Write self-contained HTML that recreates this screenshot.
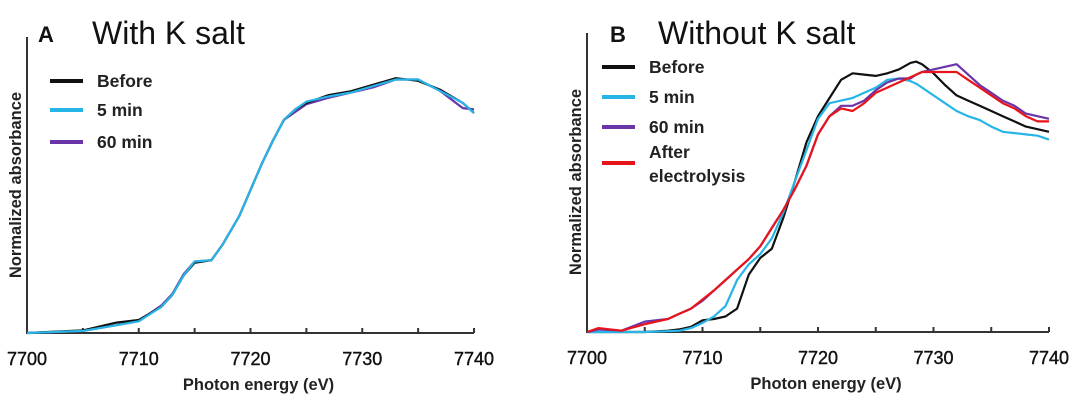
<!DOCTYPE html>
<html><head><meta charset="utf-8"><style>
html,body{margin:0;padding:0;background:#fff;width:1080px;height:402px;overflow:hidden}
svg text{font-family:"Liberation Sans",Arial,sans-serif}
</style></head><body>
<svg id="c" width="1080" height="402" xmlns="http://www.w3.org/2000/svg"></svg>
<script>
const xTicks=[7700,7710,7720,7730,7740];
const aX=[7700,7705,7708,7710,7712,7713,7714,7715,7716.5,7717.5,7719,7720,7721,7722,7723,7724,7725,7727,7729,7731,7733,7735,7737,7739,7740];
const aBefore=[0,0.01,0.04,0.05,0.1,0.146,0.22,0.27,0.28,0.34,0.45,0.55,0.65,0.74,0.82,0.86,0.885,0.915,0.93,0.955,0.98,0.97,0.935,0.885,0.846];
const a5=[0,0.008,0.03,0.045,0.1,0.146,0.22,0.275,0.28,0.34,0.45,0.55,0.65,0.74,0.82,0.86,0.89,0.91,0.925,0.95,0.975,0.975,0.93,0.885,0.846];
const a60=[0,0.008,0.03,0.046,0.105,0.15,0.225,0.275,0.28,0.34,0.45,0.55,0.65,0.74,0.82,0.85,0.88,0.905,0.925,0.945,0.975,0.975,0.93,0.865,0.86];
const bX=[7700,7701,7703,7705,7707,7708,7709,7710,7711,7712,7713,7714,7715,7716,7717,7718,7719,7720,7721,7722,7723,7724,7725,7726,7727,7728,7728.5,7729,7730,7731,7732,7733,7734,7735,7736,7737,7738,7739,7740];
const bBefore=[0,0,0,0,0.005,0.01,0.02,0.045,0.05,0.06,0.09,0.22,0.285,0.32,0.44,0.58,0.73,0.83,0.9,0.97,0.995,0.99,0.985,0.995,1.01,1.035,1.04,1.03,0.995,0.95,0.91,0.89,0.87,0.85,0.83,0.81,0.79,0.78,0.77];
const b5=[0,0,0,0,0.003,0.005,0.015,0.035,0.06,0.1,0.2,0.26,0.3,0.36,0.46,0.58,0.7,0.82,0.88,0.89,0.9,0.92,0.94,0.97,0.975,0.965,0.955,0.94,0.91,0.88,0.85,0.83,0.815,0.79,0.77,0.765,0.76,0.755,0.74];
const b60=[0,0.01,0.005,0.04,0.05,0.07,0.09,0.12,0.16,0.2,0.24,0.28,0.33,0.4,0.47,0.55,0.64,0.76,0.83,0.87,0.87,0.89,0.93,0.96,0.975,0.975,0.99,1.0,1.01,1.02,1.03,0.99,0.95,0.92,0.89,0.87,0.84,0.83,0.82];
const bAfter=[0,0.015,0.005,0.03,0.05,0.07,0.09,0.125,0.16,0.2,0.24,0.28,0.33,0.4,0.47,0.55,0.64,0.76,0.83,0.86,0.85,0.88,0.92,0.94,0.96,0.98,0.99,1.0,1.0,1.0,1.0,0.97,0.94,0.91,0.88,0.86,0.83,0.81,0.81];

const S=document.getElementById('c');const NS='http://www.w3.org/2000/svg';
function mk(t,a,txt){const e=document.createElementNS(NS,t);for(const k in a)e.setAttribute(k,a[k]);if(txt!==undefined)e.textContent=txt;S.appendChild(e);return e;}
function panel(p){
 const xs=v=>p.x0+(v-7700)/40*(p.x1-p.x0);
 const ys=v=>p.base-v*p.h;
 let e=mk('path',{d:`M${p.x0},${p.top}V${p.base}H${p.x1}`,fill:'none',stroke:'#333','stroke-width':2});
 
 
 for(let v=7705;v<=7740;v+=5){e=mk('line',{x1:xs(v),x2:xs(v),y1:p.base,y2:p.base-5,stroke:'#333','stroke-width':2});
  
  }
 xTicks.forEach(v=>{e=mk('text',{x:xs(v),y:p.base+32,'text-anchor':'middle','font-size':18,fill:'#111',stroke:'#111','stroke-width':0.4},v);
  
  });
 e=mk('text',{x:(p.x0+p.x1)/2+8,y:p.base+57,'text-anchor':'middle','font-size':16.5,'font-weight':'bold',fill:'#222'},'Photon energy (eV)');
 
 
 e=mk('text',{x:0,y:0,'text-anchor':'middle','font-size':16.5,'font-weight':'bold',fill:'#222',transform:`translate(${p.x0-6},${p.ylabY}) rotate(-90)`},'Normalized absorbance');
 
 
 e=mk('text',{x:p.lx,y:p.ty,'font-size':22,'font-weight':'bold',fill:'#111'},p.letter);
 
 
 e=mk('text',{x:p.tx,y:p.ty+2,'font-size':32,fill:'#111'},p.title);
 
 
 p.series.forEach(s=>{
  const d=s.v.map((v,i)=>(i?'L':'M')+xs(p.X[i]).toFixed(1)+','+ys(v).toFixed(1)).join('');
  e=mk('path',{d,fill:'none',stroke:s.c,'stroke-width':2.2,'stroke-linejoin':'round'});
  
  
 });
 p.legend.forEach((L,i)=>{
  e=mk('line',{x1:p.legX,x2:p.legX+33,y1:L.y,y2:L.y,stroke:L.c,'stroke-width':4});
  
  
  L.t.forEach((t,j)=>{e=mk('text',{x:p.legX+47,y:(L.ty||L.y)+6+j*24,'font-size':17.5,'font-weight':'bold',fill:'#222'},t);
   
   });
 });
}
panel({id:'panel-a',x0:27,x1:474,base:333,top:37,h:260,X:aX,ylabY:185,lx:38,tx:92,ty:42,letter:'A',title:'With K salt',legX:50,
 series:[{n:'a-60min',v:a60,c:'#6a35a8'},{n:'a-before',v:aBefore,c:'#111'},{n:'a-5min',v:a5,c:'#27b5e8'}],
 legend:[{y:81,c:'#111',t:['Before']},{y:110,c:'#27b5e8',t:['5 min']},{y:142,c:'#6a35a8',t:['60 min']}]});
panel({id:'panel-b',x0:587,x1:1049,base:332,top:33,h:260,X:bX,ylabY:182,lx:610,tx:658,ty:42,letter:'B',title:'Without K salt',legX:602,
 series:[{n:'b-before',v:bBefore,c:'#111'},{n:'b-5min',v:b5,c:'#27b5e8'},{n:'b-60min',v:b60,c:'#6a35a8'},{n:'b-after',v:bAfter,c:'#e8141c'}],
 legend:[{y:67,c:'#111',t:['Before']},{y:97,c:'#27b5e8',t:['5 min']},{y:127,c:'#6a35a8',t:['60 min']},{y:163,ty:152,c:'#e8141c',t:['After','electrolysis']}]});
</script>
</body></html>
